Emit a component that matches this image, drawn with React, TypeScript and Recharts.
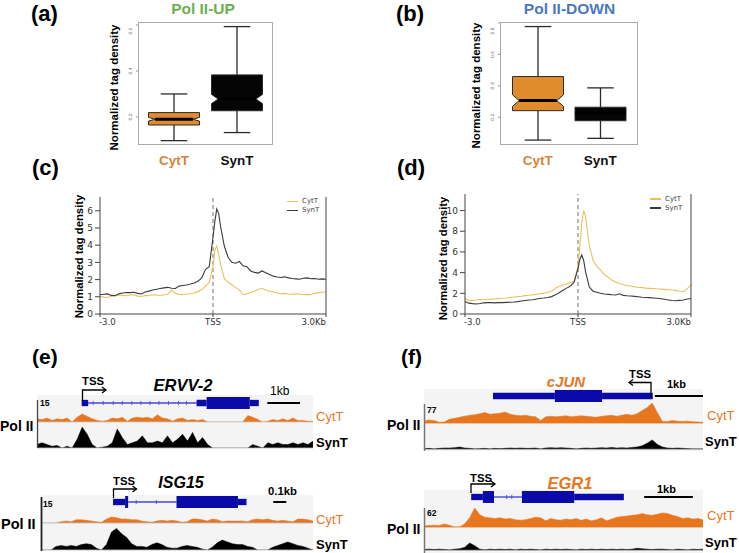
import React from 'react';
import {
  ComposedChart, Bar, XAxis, YAxis, LineChart, Line, ReferenceLine, Legend,
  AreaChart, Area, ReferenceArea,
} from 'recharts';

const FONT = '"Liberation Sans", Arial, sans-serif';
const TICK_FONT = '"DejaVu Sans", sans-serif';

// ---------- (a) / (b) box plots ----------
const GROUPS = ['CytT', 'SynT'];

const UP_MIN = [0.097, 0.132];
const UP_Q1 = [0.165, 0.227];
const UP_MED = [0.19, 0.278];
const UP_Q3 = [0.219, 0.383];
const UP_MAX = [0.3, 0.593];
const UP_NOTCH = [0.008, 0.02];
const UP_TICKS = [0.1, 0.2, 0.3, 0.4, 0.5, 0.6];

const DOWN_MIN = [0.055, 0.066];
const DOWN_Q1 = [0.242, 0.178];
const DOWN_MED = [0.306, 0.227];
const DOWN_Q3 = [0.459, 0.264];
const DOWN_MAX = [0.777, 0.387];
const DOWN_NOTCH = [0.037, 0];
const DOWN_TICKS = [0.1, 0.2, 0.3, 0.4, 0.5, 0.6, 0.7, 0.8];

// ---------- (c) / (d) TSS profiles ----------
const PROFILE_POS = [
  -3000, -2900, -2800, -2700, -2600, -2500, -2400, -2300, -2200, -2100,
  -2000, -1900, -1800, -1700, -1600, -1500, -1400, -1300, -1200, -1100,
  -1000, -900, -800, -700, -600, -500, -400, -300, -200, -100,
  0, 50, 100, 150,
  200, 300, 400, 500, 600, 700, 800, 900, 1000, 1100,
  1200, 1300, 1400, 1500, 1600, 1700, 1800, 1900, 2000, 2100,
  2200, 2300, 2400, 2500, 2600, 2700, 2800, 2900, 3000,
];
const PROFILE_TICKS = [-3000, 0, 3000];
const PROFILE_TICK_LABELS = ['-3.0', 'TSS', '3.0Kb'];

const UP_CYT = [
  1.02, 0.98, 0.96, 1.04, 1.06, 1.1, 1.08, 1.06, 1.1, 1.12,
  1.04, 1.02, 1.08, 1.06, 1.12, 1.1, 1.06, 1.12, 1.15, 1.38,
  1.2, 1.14, 1.12, 1.16, 1.18, 1.22, 1.3, 1.42, 1.62, 1.85,
  2.75, 3.7, 3.95, 3.5,
  2.9, 2.05, 1.85, 1.7, 1.55, 1.4, 1.12, 1.18, 1.25, 1.32,
  1.42, 1.48, 1.4, 1.32, 1.28, 1.22, 1.18, 1.2, 1.16, 1.14,
  1.18, 1.16, 1.12, 1.14, 1.12, 1.2, 1.24, 1.26, 1.28,
];
const UP_SYN = [
  1.12, 1.15, 1.17, 1.08, 1.06, 1.17, 1.22, 1.25, 1.24, 1.26,
  1.2, 1.16, 1.28, 1.33, 1.4, 1.44, 1.48, 1.52, 1.55, 1.5,
  1.48, 1.62, 1.66, 1.69, 1.74, 1.8, 1.9, 2.1, 2.6, 2.75,
  4.45, 5.4, 6.1, 5.85,
  5.1, 3.95, 3.3, 3.0, 2.95, 3.05, 2.8, 2.75, 2.5, 2.42,
  2.38, 2.5, 2.4, 2.3, 2.2, 2.15, 2.12, 2.16, 2.1, 2.06,
  2.04, 2.02, 2.08, 2.1, 2.05, 2.06, 2.02, 2.04, 2.02,
];
const DOWN_CYT = [
  1.5, 1.3, 1.32, 1.35, 1.4, 1.38, 1.42, 1.44, 1.46, 1.5,
  1.52, 1.55, 1.6, 1.65, 1.68, 1.72, 1.78, 1.82, 1.86, 1.9,
  1.96, 2.0, 2.1, 2.2, 2.5, 2.65, 2.8, 2.9, 3.05, 3.2,
  4.6, 6.6, 8.8, 10.0,
  9.5, 6.6, 5.2, 4.6, 4.25, 3.8, 3.55, 3.25, 3.1, 2.95,
  2.82, 2.75, 2.7, 2.62, 2.58, 2.55, 2.5, 2.48, 2.46, 2.44,
  2.4, 2.38, 2.35, 2.32, 2.28, 2.2, 2.15, 2.45, 2.8,
];
const DOWN_SYN = [
  1.2, 1.05, 1.0, 0.97, 1.02, 1.08, 1.1, 1.1, 1.08, 1.1,
  1.1, 1.12, 1.14, 1.16, 1.2, 1.25, 1.3, 1.35, 1.38, 1.45,
  1.52, 1.55, 1.6, 1.68, 1.85, 2.05, 2.3, 2.5, 2.7, 3.1,
  4.4, 5.3, 5.7, 5.2,
  4.1, 2.6, 2.2, 2.1, 2.0, 1.94, 1.9, 1.86, 1.84, 1.95,
  1.8, 1.76, 1.74, 1.7, 1.66, 1.62, 1.6, 1.58, 1.55, 1.52,
  1.48, 1.42, 1.36, 1.3, 1.28, 1.32, 1.35, 1.45, 1.5,
];

// ---------- (e) / (f) browser tracks (signal per bin) ----------
const ERVV2_CYT = [
  2, 1.5, 2.5, 1, 2, 1.5, 2.5, 0, 3, 5, 3.5, 2, 1, 0.5, 1, 2.5, 2, 3, 0.5,
  2.5, 3, 2.5, 3, 2, 4.5, 2.5, 2, 0.5, 2, 2.5, 1, 1.5, 1, 1.5,
  0, 0, 0, 0, 0, 0, 0, 0, 4, 3, 1.5, 0, 0.5, 1.5, 1, 2, 1, 2.5, 1, 1, 0.5, 0.5,
];
const ERVV2_SYN = [
  2, 3, 2, 1, 1.5, 0, 1, 0, 5, 12, 8, 2, 0, 0.5, 1, 3, 11, 6, 2,
  3, 4, 7, 3, 3, 4, 3, 7, 3, 5, 8, 4, 9, 3, 6,
  2, 0, 0, 0, 0, 0, 0, 0, 0, 2, 1, 0, 3, 2, 3, 2, 2, 3, 2, 3, 2, 4,
];
const ISG15_CYT = [
  0, 0, 0, 0, 1, 1.5, 1, 2.5, 2.5, 2, 1.5, 1, 0.5, 3, 4.5, 4, 3, 3, 2.5, 2.5,
  1.5, 1, 0.5, 1.5, 2, 1.5, 2, 1.5, 0.5, 1, 3, 3, 2.5, 1.5, 3, 2.5, 1, 1.5,
  1.5, 1.5, 1.5, 1, 2.5, 3, 2.5, 3, 2, 1.5, 2, 1.5, 1, 3, 3, 2.5, 1.5,
];
const ISG15_SYN = [
  0, 0, 0, 2, 2.5, 2, 2.5, 2, 3, 3.5, 3, 1, 0, 3, 10, 12, 9, 7, 3.5, 2,
  2, 1.5, 3, 4, 3, 1.5, 1, 1, 2, 2.5, 2, 1.5, 0.5, 0, 1.5, 4, 5.5, 4.5, 3.5,
  3, 3, 2, 1.5, 0, 0, 0, 1.5, 2.5, 3.5, 4.5, 3.5, 2.5, 2, 1, 0,
];
const CJUN_CYT = [
  8, 12, 10, 3, 4, 14, 18, 22, 26, 30, 32, 36, 40, 34, 36, 38, 42, 34, 30, 28,
  30, 26, 24, 10, 24, 26, 24, 26, 28, 24, 26, 28, 26, 24, 22, 26, 28, 30, 26, 30,
  34, 30, 36, 48, 60, 77, 40, 6, 6, 10, 7, 6, 7, 5, 4, 2,
];
const CJUN_SYN = [
  1, 2, 0, 2, 3, 3, 4, 6, 3, 2, 0, 1, 2, 0, 2, 1, 2, 3, 2, 3,
  2, 2, 3, 0, 3, 4, 3, 4, 3, 2, 0, 2, 3, 2, 3, 4, 3, 5, 3, 4,
  3, 5, 6, 10, 18, 28, 14, 6, 3, 2, 3, 2, 1, 0, 0, 0,
];
const EGR1_CYT = [
  3, 5, 6, 5, 10, 6, 0, 0, 10, 30, 62, 40, 32, 30, 28, 30, 26, 28, 24, 22,
  24, 28, 32, 30, 20, 28, 24, 22, 26, 24, 28, 22, 26, 20, 24, 30, 20, 26, 32, 34,
  36, 38, 40, 44, 40, 38, 42, 46, 44, 38, 34, 28, 30, 26, 28, 24,
];
const EGR1_SYN = [
  1, 2, 1, 2, 1, 0, 2, 3, 6, 16, 10, 2, 0, 2, 1, 2, 1, 2, 0, 2,
  1, 2, 1, 0, 2, 1, 2, 1, 2, 1, 0, 2, 1, 2, 1, 2, 1, 2, 1, 2,
  1, 2, 4, 3, 2, 1, 2, 2, 1, 0, 2, 1, 0, 2, 1, 2,
];

// gene models, in bin units
const ERVV2_GENE = [
  { from: 8.9, to: 10.2, part: 'utr' },
  { from: 10.2, to: 31.8, part: 'intron' },
  { from: 31.8, to: 33.8, part: 'utr' },
  { from: 33.8, to: 42.4, part: 'cds' },
  { from: 42.4, to: 44.2, part: 'utr' },
];
const ERVV2_MARKS = [11.2, 13.2, 15.2, 17.0, 18.9, 20.7, 22.5, 24.3, 26.2, 28.2, 29.8];
const ERVV2_ARROWS = [35.6, 37.4, 39.2, 41.0];
const ERVV2_SCALE = [45.9, 52.4];

const ISG15_GENE = [
  { from: 14.3, to: 16.7, part: 'utr' },
  { from: 16.7, to: 17.3, part: 'cds' },
  { from: 17.3, to: 26.9, part: 'intron' },
  { from: 26.9, to: 39.1, part: 'cds' },
  { from: 39.1, to: 40.8, part: 'utr' },
];
const ISG15_MARKS = [18.9, 22.9];
const ISG15_ARROWS = [30.3, 33.1, 36.0];
const ISG15_SCALE = [46.1, 48.7];

const CJUN_GENE = [
  { from: 13.6, to: 25.8, part: 'utr' },
  { from: 25.8, to: 35.1, part: 'cds' },
  { from: 35.1, to: 45.1, part: 'utr' },
];
const CJUN_ARROWS = [28.2, 30.2, 32.2];
const CJUN_SCALE = [45.5, 55];

const EGR1_GENE = [
  { from: 9.3, to: 11.6, part: 'utr' },
  { from: 11.6, to: 13.8, part: 'cds' },
  { from: 13.8, to: 19.3, part: 'intron' },
  { from: 19.3, to: 29.6, part: 'cds' },
  { from: 29.6, to: 39.4, part: 'utr' },
];
const EGR1_MARKS = [16.3, 17.3];
const EGR1_ARROWS = [21.6, 23.6, 25.6, 27.6];
const EGR1_SCALE = [43.4, 53.0];

// ---------- styles ----------
const BOX_FILL: Record<string, string> = { CytT: '#e08b2c', SynT: '#050505' };
const LABEL_COLOR: Record<string, string> = { CytT: '#d9843a', SynT: '#111111' };
const LINE_COLOR: Record<string, string> = { CytT: '#e6c15c', SynT: '#3b3b3b' };
const TRACK_ORANGE = '#e8761f';
const GENE_BLUE = '#0a0aa8';
const INTRON_BLUE = '#4646dc';
const PART_HALF: Record<string, number> = { intron: 0.1, utr: 0.45, cds: 0.85 };

const makeBoxes = (mins: number[], q1: number[], med: number[], q3: number[], maxs: number[], notch: number[]) =>
  GROUPS.map((g, k) => ({ group: g, range: [mins[k], maxs[k]], q1: q1[k], med: med[k], q3: q3[k], notch: notch[k] }));

const upBoxes = makeBoxes(UP_MIN, UP_Q1, UP_MED, UP_Q3, UP_MAX, UP_NOTCH);
const downBoxes = makeBoxes(DOWN_MIN, DOWN_Q1, DOWN_MED, DOWN_Q3, DOWN_MAX, DOWN_NOTCH);

const makeProfile = (cyt: number[], syn: number[]) =>
  PROFILE_POS.map((p, k) => ({ pos: p, CytT: cyt[k], SynT: syn[k] }));

const BoxShape = (props: any) => {
  const { x, y, width, height, payload } = props;
  const [lo, hi] = payload.range;
  const py = (v: number) => y + ((hi - v) / (hi - lo)) * height;
  const cx = x + width / 2;
  const cap = width * 0.26;
  const yQ1 = py(payload.q1);
  const yQ3 = py(payload.q3);
  const yMed = py(payload.med);
  const yNhi = py(payload.med + payload.notch);
  const yNlo = py(payload.med - payload.notch);
  const ind = payload.notch > 0 ? width * 0.13 : 0;
  const pts = [
    [x, yQ3], [x + width, yQ3], [x + width, yNhi], [x + width - ind, yMed], [x + width, yNlo],
    [x + width, yQ1], [x, yQ1], [x, yNlo], [x + ind, yMed], [x, yNhi],
  ].map((p) => p.join(',')).join(' ');
  const ws = { stroke: '#2b2b2b', strokeWidth: 1.3 };
  return (
    <g>
      <line x1={cx} x2={cx} y1={y} y2={yQ3} {...ws} />
      <line x1={cx} x2={cx} y1={yQ1} y2={y + height} {...ws} />
      <line x1={cx - cap} x2={cx + cap} y1={y} y2={y} {...ws} />
      <line x1={cx - cap} x2={cx + cap} y1={y + height} y2={y + height} {...ws} />
      <polygon points={pts} fill={BOX_FILL[payload.group]} stroke="#2b2b2b" strokeWidth={1} />
      <line x1={x + ind} x2={x + width - ind} y1={yMed} y2={yMed} stroke="#000" strokeWidth={3} />
    </g>
  );
};

const GroupTick = ({ x, y, payload }: any) => (
  <text x={x} y={y + 14} textAnchor="middle" fontFamily={FONT} fontWeight="bold" fontSize={13.5}
    fill={LABEL_COLOR[payload.value]}>{payload.value}</text>
);

const TinyTick = ({ x, y, payload }: any) => (
  <text transform={`translate(${x - 1},${y}) rotate(-90)`} textAnchor="middle" fontSize={4.5}
    fontFamily={TICK_FONT} fill="#777">{Number(payload.value).toFixed(1)}</text>
);

const BoxPanel = ({ data, domain, ticks, left, plotW, pad }: any) => (
  <>
    <div style={{ position: 'absolute', left, top: 22, width: plotW, height: 123, border: '1px solid #aaa', boxSizing: 'border-box' }} />
    <div style={{ position: 'absolute', left: left - 30, top: 22 }}>
      <ComposedChart width={30 + plotW} height={151} data={data} margin={{ top: 0, right: 0, bottom: 0, left: 0 }}>
        <XAxis dataKey="group" type="category" height={28} axisLine={false} tickLine={false} tickMargin={0}
          padding={{ left: pad, right: pad }} tick={<GroupTick />} interval={0} />
        <YAxis type="number" domain={domain} ticks={ticks} width={30} axisLine={false}
          tickLine={{ stroke: '#999' }} tickSize={2} tickMargin={3} tick={<TinyTick />} allowDataOverflow />
        <Bar dataKey="range" barSize={51} shape={<BoxShape />} isAnimationActive={false} />
      </ComposedChart>
    </div>
  </>
);

const ProfileXTick = ({ x, y, index }: any) => {
  const anchor = index === 0 ? 'start' : index === PROFILE_TICKS.length - 1 ? 'end' : 'middle';
  return (
    <text x={index === 0 ? x - 1 : x} y={y + 6} textAnchor={anchor} fontSize={8.5} fill="#333"
      fontFamily={TICK_FONT}>{PROFILE_TICK_LABELS[index]}</text>
  );
};

const ProfileLegend = () => (
  <div style={{ fontFamily: TICK_FONT, fontSize: 7, color: '#444', lineHeight: '9px' }}>
    {GROUPS.map((s) => (
      <div key={s} style={{ display: 'flex', alignItems: 'center', height: 9 }}>
        <span style={{ display: 'inline-block', width: 11, height: 1.3, background: LINE_COLOR[s], marginRight: 4 }} />
        <span>{s}</span>
      </div>
    ))}
  </div>
);

const ProfilePanel = ({ data, left, top, plotW, plotH, yMax, yTicks, legendLeft, legendTop }: any) => (
  <div style={{ position: 'absolute', left: left - 20, top: top - 5 }}>
    <LineChart width={20 + plotW + 5} height={5 + plotH + 18} data={data}
      margin={{ top: 5, right: 5, bottom: 0, left: 0 }}>
      <XAxis dataKey="pos" type="number" domain={[-3000, 3000]} ticks={PROFILE_TICKS} height={18}
        tick={<ProfileXTick />} stroke="#444" tickSize={3} interval={0} />
      <YAxis domain={[0, yMax]} ticks={yTicks} width={20} tickSize={5}
        tick={{ fontSize: 9, fill: '#333', fontFamily: TICK_FONT }} stroke="#444" allowDataOverflow />
      <YAxis yAxisId="r" orientation="right" mirror domain={[0, yMax]} ticks={yTicks} tick={false}
        tickSize={4} stroke="#444" allowDataOverflow />
      <ReferenceLine x={0} stroke="#888" strokeDasharray="4 3" strokeWidth={1.2} />
      {GROUPS.map((s) => (
        <Line key={s} dataKey={s} type="linear" stroke={LINE_COLOR[s]} strokeWidth={1.1} dot={false}
          activeDot={false} isAnimationActive={false} />
      ))}
      <Legend layout="vertical" align="center" verticalAlign="middle"
        wrapperStyle={{ left: legendLeft, top: legendTop, width: 'auto', height: 'auto' }}
        content={() => <ProfileLegend />} />
    </LineChart>
  </div>
);

const Track = ({ values, max, color, left, top, width, height, base }: any) => (
  <div style={{ position: 'absolute', left, top }}>
    <AreaChart width={width} height={height + 1} data={values.map((v: number, i: number) => ({ i, v }))}
      margin={{ top: 0, right: 0, bottom: 1, left: 0 }}>
      <XAxis dataKey="i" type="number" domain={[0, values.length - 1]} hide />
      <YAxis domain={[0, max]} hide allowDataOverflow />
      <ReferenceLine y={0} stroke={base} strokeWidth={0.8} />
      <Area dataKey="v" type="linear" stroke={color} strokeWidth={0.5} fill={color} fillOpacity={1}
        baseValue={0} dot={false} activeDot={false} isAnimationActive={false} />
    </AreaChart>
  </div>
);

const GeneModel = ({ parts, marks, arrows, scale, n, left, top, width, reverse }: any) => (
  <div style={{ position: 'absolute', left, top }}>
    <ComposedChart width={width} height={14} data={[{ i: 0, y: 0 }, { i: n - 1, y: 0 }]}
      margin={{ top: 0, right: 0, bottom: 0, left: 0 }}>
      <XAxis dataKey="i" type="number" domain={[0, n - 1]} hide />
      <YAxis domain={[-1, 1]} hide />
      <Line dataKey="y" stroke="none" strokeOpacity={0} dot={false} activeDot={false} isAnimationActive={false} />
      {parts.map((f: any, k: number) => (
        <ReferenceArea key={k} x1={f.from} x2={f.to} y1={-PART_HALF[f.part]} y2={PART_HALF[f.part]}
          fill={f.part === 'intron' ? INTRON_BLUE : GENE_BLUE} fillOpacity={1} stroke="none" ifOverflow="visible" />
      ))}
      {(marks || []).map((m: number, k: number) => (
        <ReferenceLine key={`m${k}`} segment={[{ x: m, y: -0.3 }, { x: m, y: 0.3 }]} stroke={INTRON_BLUE}
          strokeWidth={0.8} ifOverflow="visible" />
      ))}
      {(arrows || []).map((m: number, k: number) => (
        <ReferenceLine key={`a${k}`} segment={[{ x: m, y: 0.25 }, { x: m + (reverse ? -0.3 : 0.3), y: 0 }, { x: m, y: -0.25 }]}
          stroke="#c8c8ff" strokeWidth={0.7} ifOverflow="visible" />
      ))}
      <ReferenceLine segment={[{ x: scale[0], y: 0 }, { x: scale[1], y: 0 }]} stroke="#000" strokeWidth={2}
        ifOverflow="visible" />
    </ComposedChart>
  </div>
);

const Bg = ({ left, top, width, height }: any) => (
  <div style={{ position: 'absolute', left, top, width, height, background: '#f4f4f4' }} />
);

const Arrow = ({ x0, y0, y1, x2 }: any) => {
  const d = x2 > x0 ? 1 : -1;
  return (
    <g stroke="#000" strokeWidth={1.3} fill="none">
      <path d={`M${x0},${y0} V${y1} H${x2}`} />
      <path d={`M${x2 - d * 4},${y1 - 3} L${x2},${y1} L${x2 - d * 4},${y1 + 3}`} />
    </g>
  );
};

const Overlay = () => (
  <svg width={739} height={553} style={{ position: 'absolute', left: 0, top: 0, pointerEvents: 'none' }}>
    <g fontFamily={FONT} fontWeight="bold" fill="#000">
      <text x={31} y={21} fontSize={22}>(a)</text>
      <text x={396} y={21} fontSize={22}>(b)</text>
      <text x={32} y={175} fontSize={22}>(c)</text>
      <text x={397} y={175} fontSize={22}>(d)</text>
      <text x={32} y={364} fontSize={21}>(e)</text>
      <text x={401} y={364} fontSize={21}>(f)</text>

      <text x={203} y={13.5} fontSize={15.5} textAnchor="middle" fill="#6ab150">Pol II-UP</text>
      <text x={569.5} y={13.5} fontSize={15.5} textAnchor="middle" fill="#4a78c2">Pol II-DOWN</text>

      <text transform="translate(118,87.5) rotate(-90)" textAnchor="middle" fontSize={11.5}>Normalized tag density</text>
      <text transform="translate(480,85.5) rotate(-90)" textAnchor="middle" fontSize={11.5}>Normalized tag density</text>
      <text transform="translate(83,256.5) rotate(-90)" textAnchor="middle" fontSize={11.3}>Normalized tag density</text>
      <text transform="translate(447,258.5) rotate(-90)" textAnchor="middle" fontSize={11.3}>Normalized tag density</text>

      {/* (e) ERVV-2 */}
      <text x={82} y={385} fontSize={11.3}>TSS</text>
      <text x={183} y={390.5} fontSize={16.5} fontStyle="italic" textAnchor="middle">ERVV-2</text>
      <text x={270} y={395} fontSize={12} fontWeight="normal">1kb</text>
      <text x={40} y={405.5} fontSize={8.5}>15</text>
      <text x={0} y={431} fontSize={14}>Pol II</text>
      <text x={316} y={421} fontSize={13} fontWeight="normal" fill={TRACK_ORANGE}>CytT</text>
      <text x={316} y={447} fontSize={13}>SynT</text>

      {/* (e) ISG15 */}
      <text x={113} y={485} fontSize={11.3}>TSS</text>
      <text x={181} y={487.5} fontSize={16} fontStyle="italic" textAnchor="middle">ISG15</text>
      <text x={268} y={495} fontSize={11.3}>0.1kb</text>
      <text x={43} y={506.5} fontSize={8.5}>15</text>
      <text x={1} y={529} fontSize={14.5}>Pol II</text>
      <text x={316} y={524} fontSize={13} fontWeight="normal" fill={TRACK_ORANGE}>CytT</text>
      <text x={316} y={549} fontSize={13}>SynT</text>

      {/* (f) cJUN */}
      <text x={566} y={387} fontSize={15} fontStyle="italic" textAnchor="middle" fill={TRACK_ORANGE}>cJUN</text>
      <text x={629} y={378} fontSize={11.3}>TSS</text>
      <text x={667} y={388} fontSize={11}>1kb</text>
      <text x={427} y={413} fontSize={8.5}>77</text>
      <text x={387} y={430} fontSize={14}>Pol II</text>
      <text x={707} y={420} fontSize={13} fontWeight="normal" fill={TRACK_ORANGE}>CytT</text>
      <text x={705} y={446} fontSize={13}>SynT</text>

      {/* (f) EGR1 */}
      <text x={570} y={489} fontSize={16.5} fontStyle="italic" textAnchor="middle" fill={TRACK_ORANGE}>EGR1</text>
      <text x={470} y={482} fontSize={11.3}>TSS</text>
      <text x={657} y={493} fontSize={11}>1kb</text>
      <text x={427} y={516} fontSize={8.5}>62</text>
      <text x={387} y={534} fontSize={14}>Pol II</text>
      <text x={707} y={520} fontSize={13} fontWeight="normal" fill={TRACK_ORANGE}>CytT</text>
      <text x={705} y={547} fontSize={13}>SynT</text>
    </g>

    <Arrow x0={82.5} y0={401} y1={390} x2={106} />
    <Arrow x0={113.5} y0={498} y1={489} x2={136.5} />
    <Arrow x0={651} y0={397} y1={382.5} x2={629} />
    <Arrow x0={471} y0={493} y1={484} x2={495} />

    <line x1={37.5} x2={37.5} y1={400} y2={448} stroke="#444" strokeWidth={1.3} />
    <line x1={41.5} x2={41.5} y1={497} y2={551} stroke="#222" strokeWidth={1.8} />
    <line x1={424.5} x2={424.5} y1={404} y2={451} stroke="#777" strokeWidth={1.5} />
    <line x1={424.5} x2={424.5} y1={508} y2={553} stroke="#777" strokeWidth={1.5} />
  </svg>
);

export default function App() {
  return (
    <div style={{ position: 'absolute', left: 0, top: 0, width: 739, height: 553, background: '#fff', overflow: 'hidden' }}>
      <BoxPanel data={upBoxes} domain={[0.078, 0.613]} ticks={UP_TICKS} left={138} plotW={135} pad={4.5} />
      <BoxPanel data={downBoxes} domain={[0.0236, 0.806]} ticks={DOWN_TICKS} left={500} plotW={138} pad={6.5} />

      <ProfilePanel data={makeProfile(UP_CYT, UP_SYN)} left={100} top={197} plotW={226} plotH={117}
        yMax={6.8} yTicks={[0, 1, 2, 3, 4, 5, 6]} legendLeft={207} legendTop={5} />
      <ProfilePanel data={makeProfile(DOWN_CYT, DOWN_SYN)} left={465} top={194} plotW={226} plotH={120}
        yMax={11.6} yTicks={[0, 2, 4, 6, 8, 10]} legendLeft={205} legendTop={5.5} />

      <Bg left={37} top={395} width={276} height={54} />
      <GeneModel parts={ERVV2_GENE} marks={ERVV2_MARKS} arrows={ERVV2_ARROWS} scale={ERVV2_SCALE} n={ERVV2_CYT.length} left={37} top={395.5} width={276} />
      <Track values={ERVV2_CYT} max={15} color={TRACK_ORANGE} base="#c8c8c8" left={37} top={398} width={276} height={24} />
      <Track values={ERVV2_SYN} max={15} color="#000" base="#c8c8c8" left={37} top={422} width={276} height={26} />

      <Bg left={41} top={495} width={272} height={56} />
      <GeneModel parts={ISG15_GENE} marks={ISG15_MARKS} arrows={ISG15_ARROWS} scale={ISG15_SCALE} n={ISG15_CYT.length} left={41} top={495} width={272} />
      <Track values={ISG15_CYT} max={15} color={TRACK_ORANGE} base="#b8bccc" left={41} top={503} width={272} height={20} />
      <Track values={ISG15_SYN} max={15} color="#000" base="#c8c8c8" left={41} top={523} width={272} height={27} />

      <Bg left={424} top={389} width={279} height={62} />
      <GeneModel parts={CJUN_GENE} arrows={CJUN_ARROWS} reverse scale={CJUN_SCALE} n={CJUN_CYT.length} left={424} top={388.7} width={279} />
      <Track values={CJUN_CYT} max={77} color={TRACK_ORANGE} base={TRACK_ORANGE} left={424} top={403} width={279} height={20} />
      <Track values={CJUN_SYN} max={77} color="#000" base="#555" left={424} top={424} width={279} height={25} />

      <Bg left={424} top={490} width={279} height={63} />
      <GeneModel parts={EGR1_GENE} marks={EGR1_MARKS} arrows={EGR1_ARROWS} scale={EGR1_SCALE} n={EGR1_CYT.length} left={424} top={490} width={279} />
      <Track values={EGR1_CYT} max={62} color={TRACK_ORANGE} base={TRACK_ORANGE} left={424} top={508} width={279} height={19} />
      <Track values={EGR1_SYN} max={62} color="#000" base="#555" left={424} top={523} width={279} height={27} />

      <Overlay />
    </div>
  );
}
